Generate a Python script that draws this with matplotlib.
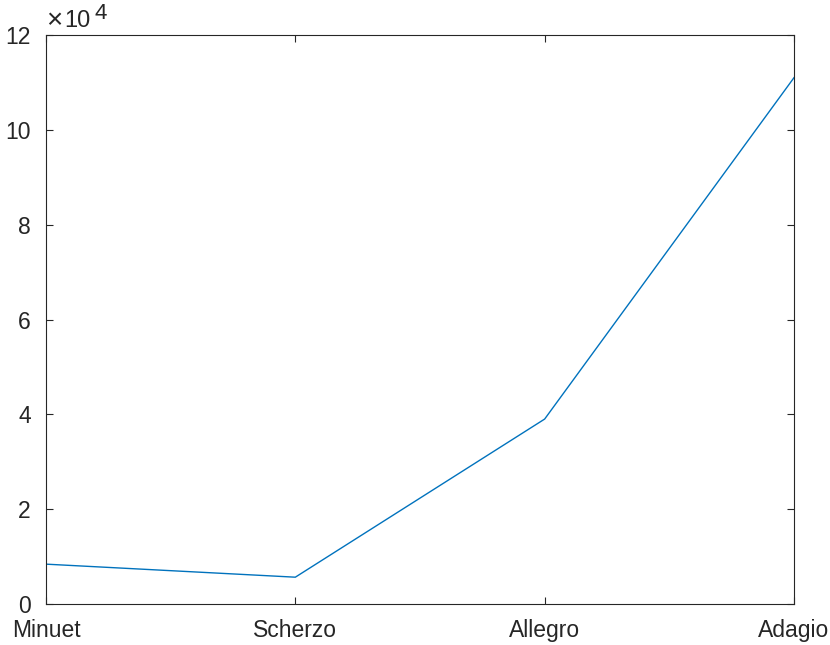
import matplotlib
matplotlib.use('Agg')
import matplotlib.pyplot as plt
import numpy as np

plt.rcParams['font.family'] = ['Liberation Sans', 'DejaVu Sans']

# data
movements = ['Minuet', 'Scherzo', 'Allegro', 'Adagio']
counts = [8400, 5650, 39000, 111000]
yticks = [0, 20000, 40000, 60000, 80000, 100000, 120000]

W, H = 830, 645
fig = plt.figure(figsize=(W / 100, H / 100), dpi=100)
ax = fig.add_axes([0.0554, 0.0636, 0.9012, 0.8821])

x = np.arange(len(movements))
ax.plot(x, counts, color='#0072BD', lw=1.0)

ax.set_xlim(0, len(movements) - 1)
ax.set_ylim(0, 120000)
ax.set_xticks(x)
ax.set_xticklabels(movements)
ax.set_yticks(yticks)
ax.set_yticklabels(['%g' % (v / 1e4) for v in yticks])

axcol = '#262626'
for s in ax.spines.values():
    s.set_color(axcol)
    s.set_linewidth(0.8)
ax.tick_params(direction='in', length=5, width=0.8, colors=axcol,
               labelsize=16.5, top=True, right=True, labelcolor=axcol)
ax.tick_params(axis='x', pad=11)
ax.tick_params(axis='y', pad=11)

# MATLAB style exponent label, placed in figure pixels
def fig_text(px, py, s, size):
    fig.text(px / W, 1 - py / H, s, fontsize=size, color=axcol,
             ha='left', va='baseline')

fig_text(46, 28, '\u00d7', 20)
fig_text(64, 27, '10', 17)
fig_text(94, 19, '4', 16)

fig.savefig('out.png', dpi=100)
